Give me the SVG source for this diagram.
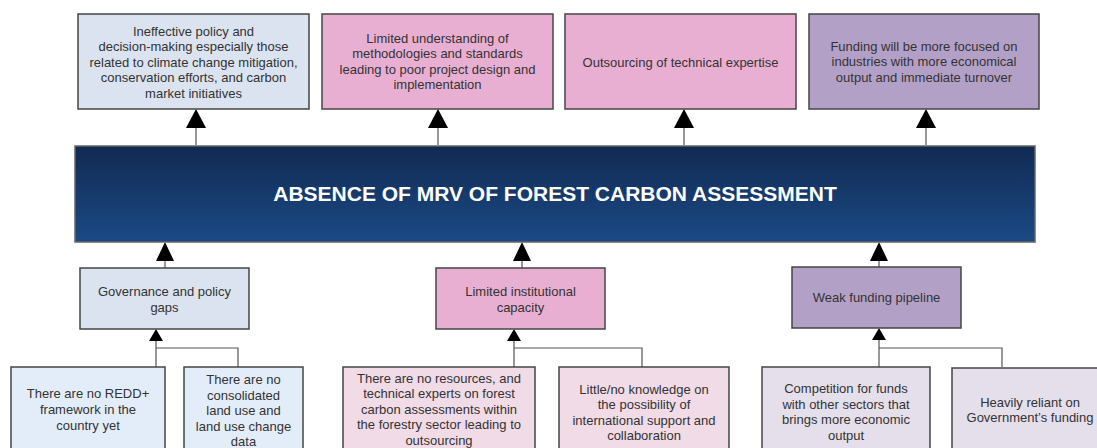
<svg xmlns="http://www.w3.org/2000/svg" width="1097" height="448" viewBox="0 0 1097 448">
<style>
.box{stroke:#454545;stroke-width:1.5}
.t{font-family:"Liberation Sans",Arial,sans-serif;font-size:13px;fill:#333;text-anchor:middle}
.title{font-family:"Liberation Sans",Arial,sans-serif;font-size:21px;font-weight:bold;fill:#fff;text-anchor:middle}
.blue{fill:#dae3ef}.pink{fill:#e9afd2}.purple{fill:#b3a0c7}
.lblue{fill:#e3edf9}.lpink{fill:#f0dbe7}.lpurple{fill:#e5dfeb}
.ln{fill:none;stroke:#555;stroke-width:1.2}
.ah{fill:#000}
</style>
<defs>
<linearGradient id="g" x1="0" y1="0" x2="0" y2="1">
<stop offset="0" stop-color="#112a52"/>
<stop offset="1" stop-color="#1b4a86"/>
</linearGradient>
</defs>
<g id="connectors">
<path class="ln" d="M196 145V126M438 145V126M684 145V126M926 145V126"/>
<path class="ah" d="M196 109l-10 19h20zM438 109l-10 19h20zM684 109l-10 19h20zM926 109l-10 19h20z"/>
<path class="ln" d="M165 268V258M522 268V258M879 267V258"/>
<path class="ah" d="M165 242l-9 19h18zM522 242l-9 19h18zM879 242l-9 19h18z"/>
<path class="ln" d="M156 367V338M238 367V348H156M514 367V338M642 367V348H514M879 367V338M1002 367V348H879"/>
<path class="ah" d="M156 329l-7 12h14zM514 329l-7 12h14zM879 328l-7 12h14z"/>
</g>
<g id="top1"><rect class="box blue" x="78" y="14" width="231" height="95"/>
<text class="t"><tspan x="193.5" y="35.5">Ineffective policy and</tspan><tspan x="193.5" y="51">decision-making especially those</tspan><tspan x="193.5" y="66.5">related to climate change mitigation,</tspan><tspan x="193.5" y="82">conservation efforts, and carbon</tspan><tspan x="193.5" y="97.5">market initiatives</tspan></text></g>
<g id="top2"><rect class="box pink" x="322" y="14" width="231" height="95"/>
<text class="t"><tspan x="437.5" y="42.5">Limited understanding of</tspan><tspan x="437.5" y="58">methodologies and standards</tspan><tspan x="437.5" y="73.5">leading to poor project design and</tspan><tspan x="437.5" y="89">implementation</tspan></text></g>
<g id="top3"><rect class="box pink" x="565" y="14" width="231" height="95"/>
<text class="t" x="680.5" y="66.5">Outsourcing of technical expertise</text></g>
<g id="top4"><rect class="box purple" x="809" y="14" width="230" height="95"/>
<text class="t"><tspan x="924" y="50.5">Funding will be more focused on</tspan><tspan x="924" y="66">industries with more economical</tspan><tspan x="924" y="81.5">output and immediate turnover</tspan></text></g>
<g id="main"><rect x="75" y="146" width="960" height="96" fill="url(#g)" stroke="#666" stroke-width="1.5"/>
<text class="title" x="555" y="201">ABSENCE OF MRV OF FOREST CARBON ASSESSMENT</text></g>
<g id="mid1"><rect class="box blue" x="80" y="268" width="169" height="61"/>
<text class="t"><tspan x="164.5" y="295.5">Governance and policy</tspan><tspan x="164.5" y="311.5">gaps</tspan></text></g>
<g id="mid2"><rect class="box pink" x="436" y="268" width="169" height="61"/>
<text class="t"><tspan x="520.5" y="295.5">Limited institutional</tspan><tspan x="520.5" y="311.5">capacity</tspan></text></g>
<g id="mid3"><rect class="box purple" x="792" y="267" width="169" height="61"/>
<text class="t" x="876.5" y="302">Weak funding pipeline</text></g>
<g id="bot1"><rect class="box lblue" x="11" y="367" width="154" height="90"/>
<text class="t"><tspan x="88" y="397.5">There are no REDD+</tspan><tspan x="88" y="413.5">framework in the</tspan><tspan x="88" y="429.5">country yet</tspan></text></g>
<g id="bot2"><rect class="box lblue" x="184" y="367" width="119" height="90"/>
<text class="t"><tspan x="243.5" y="383.5">There are no</tspan><tspan x="243.5" y="399.5">consolidated</tspan><tspan x="243.5" y="415">land use and</tspan><tspan x="243.5" y="430.5">land use change</tspan><tspan x="243.5" y="446">data</tspan></text></g>
<g id="bot3"><rect class="box lpink" x="343" y="367" width="192" height="90"/>
<text class="t"><tspan x="439" y="382.5">There are no resources, and</tspan><tspan x="439" y="398">technical experts on forest</tspan><tspan x="439" y="413.5">carbon assessments within</tspan><tspan x="439" y="429">the forestry sector leading to</tspan><tspan x="439" y="444.5">outsourcing</tspan></text></g>
<g id="bot4"><rect class="box lpink" x="559" y="367" width="170" height="90"/>
<text class="t"><tspan x="644" y="393.5">Little/no knowledge on</tspan><tspan x="644" y="409">the possibility of</tspan><tspan x="644" y="424.5">international support and</tspan><tspan x="644" y="440">collaboration</tspan></text></g>
<g id="bot5"><rect class="box lpurple" x="762" y="367" width="168" height="90"/>
<text class="t"><tspan x="846" y="392.5">Competition for funds</tspan><tspan x="846" y="408.5">with other sectors that</tspan><tspan x="846" y="424">brings more economic</tspan><tspan x="846" y="439.5">output</tspan></text></g>
<g id="bot6"><rect class="box lpurple" x="952" y="368" width="170" height="90"/>
<text class="t"><tspan x="1030" y="406.5">Heavily reliant on</tspan><tspan x="1030" y="422">Government’s funding</tspan></text></g>
</svg>
